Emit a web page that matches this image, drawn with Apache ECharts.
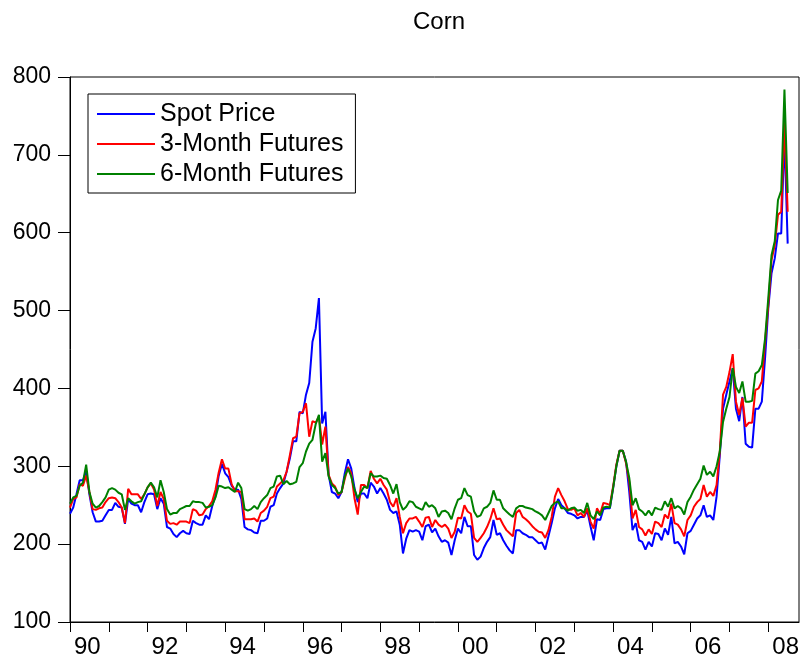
<!DOCTYPE html>
<html>
<head>
<meta charset="utf-8">
<script src="https://cdn.jsdelivr.net/npm/echarts@6/dist/echarts.min.js"></script>
<style>
html,body{margin:0;padding:0;background:#fff;}
#chart{width:804px;height:664px;}
</style>
</head>
<body>
<div id="chart"></div>
<script>
// Monthly observations, 1990M01 .. 2008M07
var startYear = 1990;
var yearTickLabels = ['90','92','94','96','98','00','02','04','06','08'];
var seriesNames = ['Spot Price', '3-Month Futures', '6-Month Futures'];

var spotPrice = [
  239,247,264,282,282,294,264,241,229,229,
  230,237,244,244,253,248,247,226,258,252,
  250,250,241,254,264,265,264,245,259,252,
  222,220,213,209,214,217,214,213,230,227,
  225,225,237,232,249,262,288,303,291,286,
  275,270,270,258,222,219,218,215,214,230,
  230,233,248,250,265,272,278,293,310,332,
  332,370,368,392,407,460,477,516,355,370,
  289,267,265,259,267,291,309,297,272,254,
  265,265,259,279,274,265,272,265,257,244,
  240,242,225,188,207,218,216,218,216,205,
  223,225,215,220,210,203,205,202,186,205,
  220,214,235,223,223,186,180,184,195,203,
  209,231,212,214,205,198,192,188,218,218,
  214,212,209,209,205,201,202,193,210,227,
  246,258,250,246,240,239,237,233,235,235,
  243,223,205,232,231,245,246,246,272,300,
  320,320,306,267,218,227,205,203,193,203,
  197,214,213,205,220,212,235,201,203,197,
  187,214,217,225,233,237,250,235,237,231,
  261,314,374,392,409,426,374,358,389,329,
  325,324,374,374,383,439,503,548,567,599,
  599,725,586
];

var futures3M = [
  247,258,260,277,275,288,267,245,244,246,
  247,254,259,260,259,254,247,227,271,264,
  264,264,258,264,273,278,270,249,267,258,
  230,226,227,225,229,229,229,227,245,243,
  237,238,245,249,255,270,292,309,297,297,
  277,268,268,267,232,232,232,233,229,240,
  243,248,259,261,274,278,282,293,314,336,
  338,368,370,381,338,358,356,364,328,351,
  289,278,274,263,267,284,299,291,259,238,
  276,276,272,294,284,278,284,276,270,254,
  248,259,235,214,227,233,233,235,229,222,
  234,235,222,231,225,222,225,220,208,216,
  234,233,250,242,239,208,203,208,214,222,
  232,246,232,233,225,218,214,210,240,244,
  235,232,228,223,219,216,215,208,218,235,
  261,272,263,255,245,244,246,237,240,235,
  246,229,220,246,239,253,252,250,274,302,
  320,320,304,280,233,244,222,219,211,219,
  213,229,227,222,238,233,252,227,225,219,
  210,231,237,248,254,258,276,261,267,262,
  276,319,392,402,421,444,383,366,388,351,
  356,356,398,400,409,460,507,565,584,623,
  627,742,627
];

var futures6M = [
  252,260,262,275,279,302,267,252,247,249,
  254,260,270,272,270,266,264,244,259,255,
  252,254,255,264,273,279,273,260,282,267,
  245,238,240,240,245,247,249,249,255,254,
  254,253,247,248,250,260,275,274,272,273,
  270,267,279,272,245,243,245,249,245,254,
  259,263,272,274,287,288,277,281,277,278,
  280,299,304,319,329,334,354,366,306,317,
  287,276,272,265,267,287,297,287,270,259,
  267,274,272,291,287,287,288,285,284,276,
  265,277,254,244,248,255,254,248,246,244,
  254,248,250,246,235,242,243,240,232,246,
  257,259,272,263,261,242,235,237,246,248,
  253,269,257,257,246,242,238,235,246,249,
  249,247,246,245,242,240,237,231,240,249,
  253,255,246,246,243,246,247,243,244,240,
  253,237,232,242,237,247,248,247,272,300,
  320,320,306,285,250,259,245,242,237,243,
  237,247,245,244,255,248,259,246,249,246,
  238,254,261,270,277,284,301,289,293,287,
  300,319,357,374,389,426,402,394,409,383,
  383,384,419,422,430,464,516,571,589,642,
  654,784,651
];

var yTicks = [100,200,300,400,500,600,700,800];

function toPairs(arr){
  var out = [];
  for (var i = 0; i < arr.length; i++) out.push([i, arr[i]]);
  return out;
}

var yearTickValues = [];
for (var k = 0; k <= 18; k++) yearTickValues.push(k * 12);
var yearLabelValues = [];
for (var j = 0; j < yearTickLabels.length; j++) yearLabelValues.push(j * 24);

var font = '"Liberation Sans", Arial, Helvetica, sans-serif';
var chart = echarts.init(document.getElementById('chart'), null, {renderer: 'canvas'});

chart.setOption({
  animation: false,
  backgroundColor: '#ffffff',
  title: {
    text: 'Corn',
    left: 408,
    top: 5,
    textStyle: {fontFamily: font, fontSize: 24, fontWeight: 'normal', color: '#000'}
  },
  legend: {
    orient: 'vertical',
    left: 88,
    top: 94,
    padding: [6, 12, 5, 9],
    borderColor: '#000',
    borderWidth: 1,
    backgroundColor: '#fff',
    itemWidth: 58,
    itemHeight: 2,
    itemGap: 2,
    icon: 'rect',
    textStyle: {fontFamily: font, fontSize: 25, color: '#000', lineHeight: 28},
    data: seriesNames
  },
  grid: {
    left: 70, right: 5, top: 77, bottom: 42,
    show: true, borderColor: '#000', borderWidth: 1, backgroundColor: 'transparent'
  },
  xAxis: {
    type: 'value',
    min: 0,
    max: 225.5,
    interval: 12,
    axisLine: {show: true, lineStyle: {color: '#000', width: 1}},
    axisTick: {show: true, length: 10, inside: false, lineStyle: {color: '#000'}, customValues: yearTickValues},
    axisLabel: {
      show: true, margin: 13, color: '#000', fontFamily: font, fontSize: 24,
      align: 'left', padding: [0, 0, 0, 4],
      customValues: yearLabelValues,
      formatter: function(v){
        if (v % 24 === 0) { var idx = v / 24; return yearTickLabels[idx] || ''; }
        return '';
      }
    },
    splitLine: {show: false}
  },
  yAxis: {
    type: 'value',
    min: yTicks[0],
    max: yTicks[yTicks.length - 1],
    interval: 100,
    axisLine: {show: true, lineStyle: {color: '#000', width: 1}},
    axisTick: {show: true, length: 12, inside: false, lineStyle: {color: '#000'}},
    axisLabel: {margin: 19, color: '#000', fontFamily: font, fontSize: 23},
    splitLine: {show: false}
  },
  series: [
    {name: seriesNames[0], type: 'line', data: toPairs(spotPrice), showSymbol: false, symbol: 'none',
     lineStyle: {color: '#0000ff', width: 2}, itemStyle: {color: '#0000ff'}},
    {name: seriesNames[1], type: 'line', data: toPairs(futures3M), showSymbol: false, symbol: 'none',
     lineStyle: {color: '#ff0000', width: 2}, itemStyle: {color: '#ff0000'}},
    {name: seriesNames[2], type: 'line', data: toPairs(futures6M), showSymbol: false, symbol: 'none',
     lineStyle: {color: '#008000', width: 2}, itemStyle: {color: '#008000'}}
  ]
});
</script>
</body>
</html>
